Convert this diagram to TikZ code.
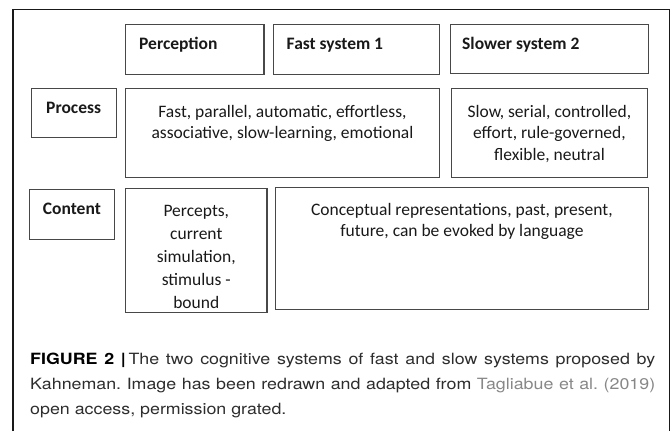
\documentclass[tikz,border=0pt]{standalone}
\usepackage{fontspec}
\usepackage{xcolor}
\usepackage{tikz}
\usetikzlibrary{positioning, calc}
\setmainfont{Carlito}
\newfontfamily\capfont[FakeStretch=1.15]{TeX Gyre Heros}
\definecolor{cellline}{RGB}{72, 72, 72}
\definecolor{framedark}{RGB}{25, 25, 25}
\definecolor{captext}{RGB}{45, 45, 45}
\definecolor{linkgray}{RGB}{135, 135, 135}

\begin{document}
\begin{tikzpicture}[
    x=1bp, y=-1bp,
    cell/.style={draw=cellline, line width=1.1bp, inner sep=0pt, anchor=north west},
    head/.style={anchor=base west, inner sep=0pt, text=black!90,
                 font=\fontsize{17.5bp}{22bp}\selectfont\bfseries},
    body/.style={anchor=north, inner sep=0pt, align=center, text=black!90,
                 font=\fontsize{17.5bp}{21.5bp}\selectfont}
]
    \useasboundingbox (0,0) rectangle (672,431);
    % outer frame, open at the bottom
    \coordinate (frameSW) at (13,431);
    \coordinate (frameNE) at (669.5,9.5);
    \draw[framedark, line width=1.3bp] (frameSW) |- (frameNE) -- (frameNE |- frameSW);

    % header row
    \node[cell, minimum width=139, minimum height=50] (perception) at (125,24) {};
    \node[cell, minimum width=166.5, minimum height=50] (fastsys) at (273,24) {};
    \node[cell, minimum width=199, minimum height=49] (slowsys) at (450,24) {};
    \node[head] (perceptiontxt) at ($(perception.north west)+(14,25)$) {Perception};
    \node[head] (fastsystxt) at ($(fastsys.north west)+(13.5,25)$) {Fast system 1};
    \node[head] (slowsystxt) at ($(slowsys.north west)+(12,25)$) {Slower system 2};

    % process row
    \node[cell, minimum width=85.5, minimum height=49] (process) at (30.5,88) {};
    \node[cell, minimum width=315, minimum height=89] (fastproc) at (125,88) {};
    \node[cell, minimum width=196.5, minimum height=89] (slowproc) at (451,88) {};
    \node[head, anchor=base] (processtxt) at ($(process.north)+(0,25)$) {Process};
    \node[body] (fastproctxt) at ($(fastproc.north)+(0,17)$)
        {Fast, parallel, automatic, effortless,\\associative, slow-learning, emotional};
    \node[body] (slowproctxt) at ($(slowproc.north)+(0,17)$)
        {Slow, serial, controlled,\\effort, rule-governed,\\flexible, neutral};

    % content row
    \node[cell, minimum width=85, minimum height=50] (content) at (29,189) {};
    \node[cell, minimum width=142, minimum height=124] (percepts) at (125,188) {};
    \node[cell, minimum width=374, minimum height=122.5] (concepts) at (275,187) {};
    \node[head, anchor=base] (contenttxt) at ($(content.north)+(0,25)$) {Content};
    \node[body, font=\fontsize{17.5bp}{23bp}\selectfont] (perceptstxt) at ($(percepts.north)+(0,17)$)
        {Percepts,\\current\\simulation,\\stimulus -\\bound};
    \node[body] (conceptstxt) at ($(concepts.north)+(0,16)$)
        {Conceptual representations, past, present,\\future, can be evoked by language};

    % caption
    \node[anchor=north west, inner sep=0pt, text width=625bp, align=justify,
          text=captext, font=\capfont\fontsize{15.5bp}{25bp}\selectfont\frenchspacing]
        (caption) at (30,353)
        {\textcolor{black}{\textbf{FIGURE 2 |}}\,The two cognitive systems of fast and slow systems proposed by\linebreak
         Kahneman. Image has been redrawn and adapted from \textcolor{linkgray}{Tagliabue et al. (2019)}\linebreak
         open access, permission grated.};
\end{tikzpicture}
\end{document}
